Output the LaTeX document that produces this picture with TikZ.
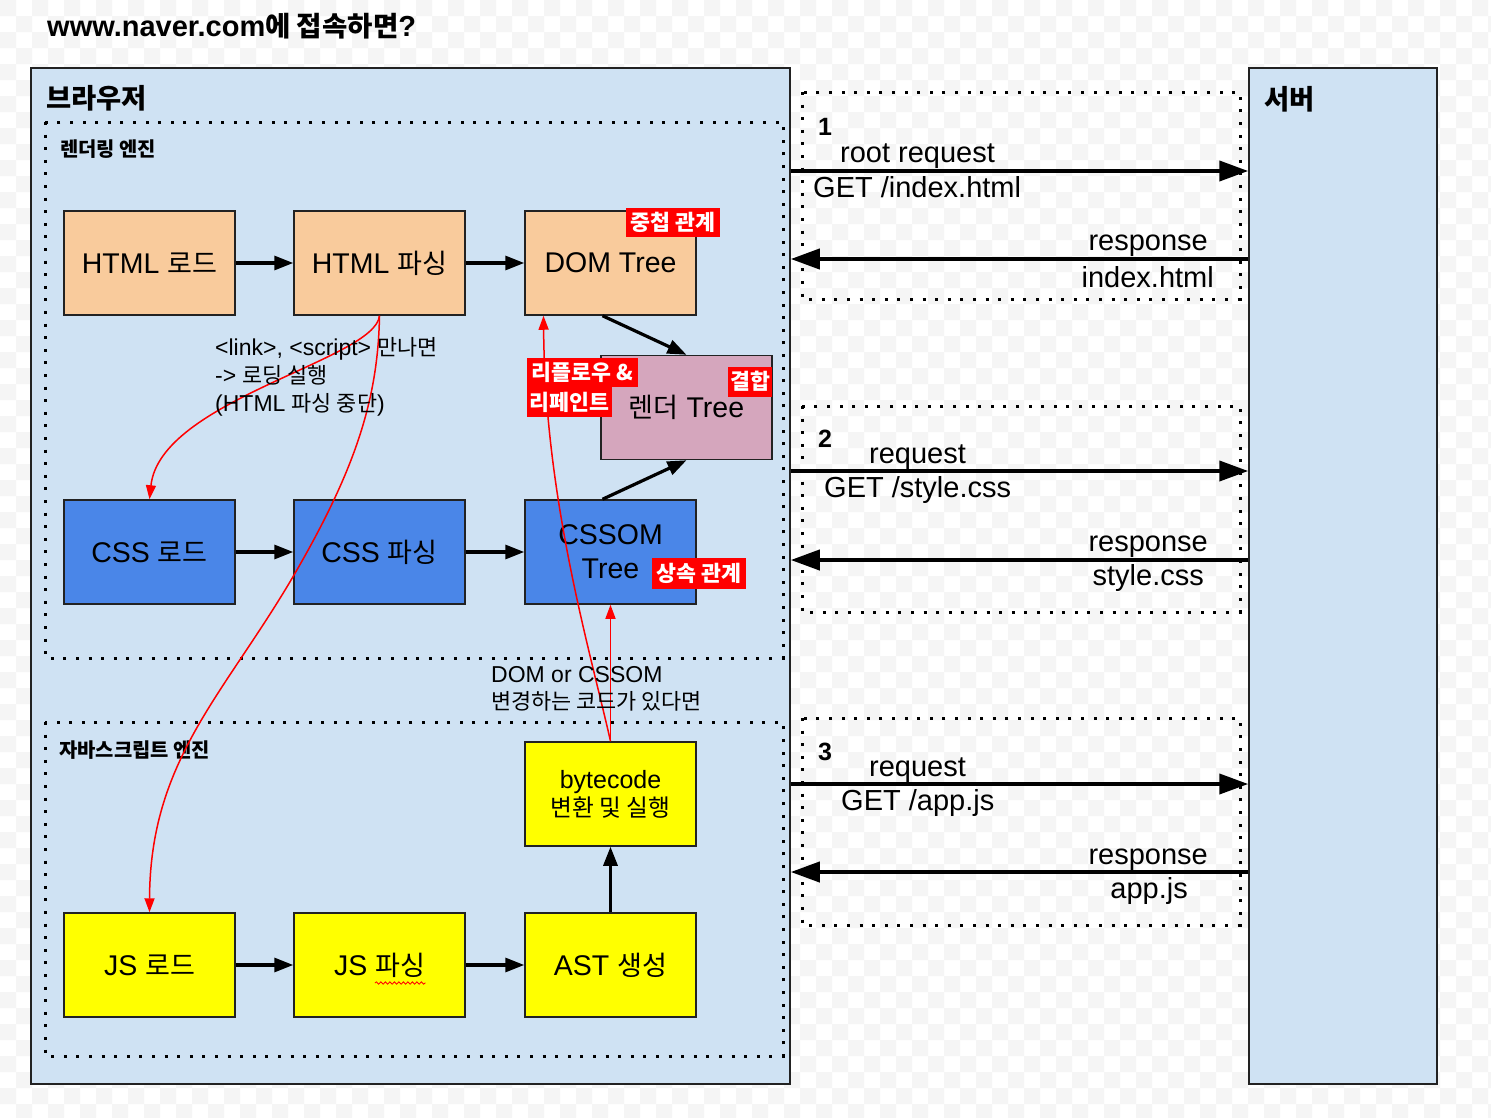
\documentclass[tikz,border=0pt]{standalone}
\usepackage{fontspec}
\setmainfont{Liberation Sans}
\newfontfamily\krf[Scale=0.95]{Noto Sans CJK KR}
\newcommand\K[1]{{\krf #1}}
\newcommand\fsz[2]{\fontsize{#1}{#2}\selectfont}
\usetikzlibrary{arrows.meta,decorations.pathmorphing,calc}
\definecolor{lblue}{HTML}{CFE2F3}
\definecolor{lorange}{HTML}{F9CB9C}
\definecolor{lmag}{HTML}{D5A6BD}
\definecolor{cblue}{HTML}{4A86E8}
\definecolor{yel}{HTML}{FFFF00}
\definecolor{bord}{HTML}{222222}
\definecolor{chk}{HTML}{F5F5F5}
\begin{document}
\begin{tikzpicture}[x=1pt,y=-1pt,
  box/.style={draw=bord, line width=1.5pt, minimum width=171pt, minimum height=104pt, inner sep=0pt, font=\fsz{28.5}{34}, align=center},
  frame/.style={draw=bord, line width=1.5pt, fill=lblue, inner sep=0pt},
  dotbox/.style={draw=black, line width=3pt, dash pattern=on 3pt off 9.6pt},
  flow/.style={line width=3.2pt, -{Triangle[length=19pt,width=14pt]}},
  net/.style={line width=4pt, -{Triangle[length=29pt,width=20pt]}},
  redarr/.style={red, line width=1.5pt, -{Triangle[length=14pt,width=10pt]}},
  tag/.style={fill=red, text=white, font=\krf\bfseries\fsz{22.8}{26}, inner sep=0pt, minimum height=29pt},
  lbl/.style={font=\fsz{23}{27.5}, inner sep=0pt, anchor=base west},
  ntxt/.style={font=\fsz{29}{34}, inner sep=0pt},
  num/.style={font=\bfseries\fsz{25}{30}, inner sep=0pt, anchor=base west},
  ttl/.style={font=\krf\bfseries\fsz{28.8}{34}, inner sep=0pt, anchor=west},
  sub/.style={font=\krf\bfseries\fsz{20.9}{24}, inner sep=0pt, anchor=west}]
\useasboundingbox (0,0) rectangle (1491,1117);
\fill[white] (0,0) rectangle (1491,1117);
\fill[chk] \foreach \i in {0,32,...,1472} {\foreach \j in {0,32,...,1088} {(\i,\j) rectangle ++(16,16) (\i+16,\j+16) rectangle ++(16,16)}};

% title
\node[anchor=base west, inner sep=0pt, font=\bfseries\fsz{29}{34}] (title) at (47,36) {www.naver.com\K{에 접속하면}?};

% frames
\node[frame, minimum width=759pt, minimum height=1016pt] (browser) at (410.5,576) {};
\node[frame, minimum width=188pt, minimum height=1016pt] (server) at (1343,576) {};
\node[ttl] (btitle) at (46,98.5) {브라우저};
\node[ttl] (stitle) at (1264,99) {서버};

% engines
\draw[dotbox] (45,122) rectangle (783,658);
\draw[dotbox] (45,722) rectangle (783,1056);
\node[sub] (reng) at (60,149.5) {렌더링 엔진};
\node[sub] (jeng) at (59,750.5) {자바스크립트 엔진};

% network groups
\draw[dotbox] (802,92) rectangle (1240,299);
\draw[dotbox] (802,406) rectangle (1240,612);
\draw[dotbox] (802,718) rectangle (1240,925);

% boxes
\node[box,fill=lorange] (hl) at (149.5,263) {HTML \K{로드}};
\node[box,fill=lorange] (hp) at (379.5,263) {HTML \K{파싱}};
\node[box,fill=lorange] (dom) at (610.5,263) {DOM Tree};
\node[box,fill=lmag] (rt) at (686.5,407.5) {\K{렌더} Tree};
\node[box,fill=cblue] (cl) at (149.5,552) {CSS \K{로드}};
\node[box,fill=cblue] (cp) at (379.5,552) {CSS \K{파싱}};
\node[box,fill=cblue] (cssom) at (610.5,552) {CSSOM\\Tree};
\node[box,fill=yel,font=\fsz{25}{28}] (bc) at (610.5,794) {bytecode\\\K{변환 및 실행}};
\node[box,fill=yel] (jl) at (149.5,965) {JS \K{로드}};
\node[box,fill=yel] (jp) at (379.5,965) {JS \K{파싱}};
\node[box,fill=yel] (ast) at (610.5,965) {AST \K{생성}};

% flow arrows
\draw[flow] (hl) -- (hp);
\draw[flow] (hp) -- (dom);
\draw[flow] (cl) -- (cp);
\draw[flow] (cp) -- (cssom);
\draw[flow] (jl) -- (jp);
\draw[flow] (jp) -- (ast);
\draw[flow] (ast) -- (bc);
\draw[flow] ([xshift=-8pt]dom.south) -- (rt.north);
\draw[flow] ([xshift=-8pt]cssom.north) -- (rt.south);

% red arrows
\draw[redarr] (hp.south) .. controls (375,360) and (160,400) .. (cl.north);
\draw[redarr] (hp.south) .. controls (378,400) and (355,470) .. (294,575) .. controls (224,695) and (150,760) .. (jl.north);
\draw[redarr] (bc.north) -- (cssom.south);
\draw[redarr] (bc.north) .. controls (590,650) and (545,500) .. ([xshift=-67pt]dom.south);

% squiggle
\draw[red, line width=0.8pt, decorate, decoration={snake,amplitude=1.2pt,segment length=4.5pt}] ($(jp.center)+(-4.5,18)$) -- ($(jp.center)+(46,18)$);

% tags
\node[tag, minimum width=94pt] (t1) at (673,222.5) {중첩 관계};
\node[tag, minimum width=44pt, minimum height=30pt] (t2) at (750,381.7) {결합};
\node[tag, minimum width=111pt] (t3) at (582.3,372.5) {리플로우 \&};
\node[tag, minimum width=85pt, minimum height=30pt] (t4) at (569.5,402.3) {리페인트};
\node[tag, minimum width=94pt, minimum height=31pt] (t5) at (698.7,573.5) {상속 관계};

% notes
\node[lbl] (n1) at (215,355) {<link>, <script> \K{만나면}};
\node[lbl] (n2) at (215,383) {-> \K{로딩 실행}};
\node[lbl] (n3) at (215,411) {(HTML \K{파싱 중단})};
\node[lbl] (n4) at (491,682) {DOM or CSSOM};
\node[lbl] (n5) at (491,709) {\K{변경하는 코드가 있다면}};

% network
\coordinate (q1) at (1000,171);
\coordinate (s1) at (1000,259);
\coordinate (q2) at (1000,471);
\coordinate (s2) at (1000,560);
\coordinate (q3) at (1000,784);
\coordinate (s3) at (1000,872);
\draw[net] (browser.east |- q1) -- (server.west |- q1);
\draw[net] (server.west |- s1) -- (browser.east |- s1);
\draw[net] (browser.east |- q2) -- (server.west |- q2);
\draw[net] (server.west |- s2) -- (browser.east |- s2);
\draw[net] (browser.east |- q3) -- (server.west |- q3);
\draw[net] (server.west |- s3) -- (browser.east |- s3);

\node[num] (g1) at (818,135) {1};
\node[ntxt, anchor=base west] (r1) at (840,162) {root request};
\node[ntxt, anchor=base west] (r1b) at (813,197) {GET /index.html};
\node[ntxt, anchor=base east] (p1) at (1208,250) {response};
\node[ntxt, anchor=base east] (p1b) at (1214,287) {index.html};

\node[num] (g2) at (818,447) {2};
\node[ntxt, anchor=base west] (r2) at (869,463) {request};
\node[ntxt, anchor=base west] (r2b) at (824,497) {GET /style.css};
\node[ntxt, anchor=base east] (p2) at (1208,551) {response};
\node[ntxt, anchor=base east] (p2b) at (1204,585) {style.css};

\node[num] (g3) at (818,760) {3};
\node[ntxt, anchor=base west] (r3) at (869,776) {request};
\node[ntxt, anchor=base west] (r3b) at (841,810) {GET /app.js};
\node[ntxt, anchor=base east] (p3) at (1208,864) {response};
\node[ntxt, anchor=base east] (p3b) at (1188,898) {app.js};
\end{tikzpicture}
\end{document}
